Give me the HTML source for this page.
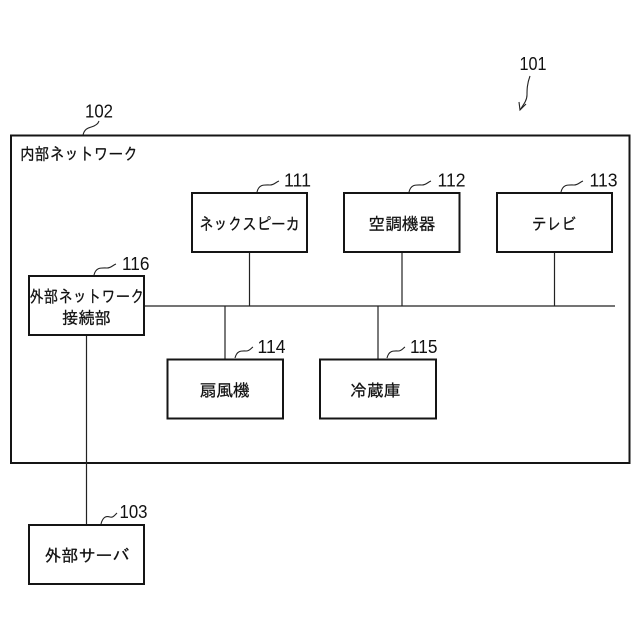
<!DOCTYPE html>
<html lang="ja"><head><meta charset="utf-8"><style>
html,body{margin:0;padding:0;background:#fff}
svg{display:block}
.j{font-family:"Liberation Sans","IPAGothic","Noto Sans CJK JP",sans-serif;font-size:17px;fill:#111;stroke:#111;stroke-width:.25}
.n{font-family:"Liberation Sans",sans-serif;font-size:18.5px;fill:#111}
.b{fill:none;stroke:#151515;stroke-width:2}
.l{fill:none;stroke:#222;stroke-width:1.2}
.c{fill:none;stroke:#222;stroke-width:1.1}
</style></head><body>
<svg width="640" height="640" viewBox="0 0 640 640" xmlns="http://www.w3.org/2000/svg">
<rect width="640" height="640" fill="#fff"/>
<rect class="b" x="11" y="135.5" width="618.5" height="327.5"/>
<path class="l" d="M144 306H615M249.5 252V306M402 252V306M554.5 252V306M225 306V359.5M378 306V359.5M86.5 335V525"/>
<rect class="b" x="192" y="193" width="115" height="59"/>
<rect class="b" x="344" y="193" width="115.5" height="59"/>
<rect class="b" x="497" y="193" width="115" height="59"/>
<rect class="b" x="29" y="276" width="115" height="59"/>
<rect class="b" x="167.5" y="359.5" width="115.5" height="59"/>
<rect class="b" x="320" y="359.5" width="116" height="59"/>
<rect class="b" x="29" y="525" width="115" height="59"/>
<path class="c" d="M83 135C85 127 90 128 94 126C98 124 98 123 99 121"/>
<path class="c" d="M257 192C259 184 264 185 270 185C274 185 276 182 279 181"/>
<path class="c" d="M409 192C411 184 416 185 422 185C426 185 428 182 431 181"/>
<path class="c" d="M561 192C563 184 568 185 574 185C578 185 580 182 583 181"/>
<path class="c" d="M94 275C96 267 101 268 107 268C111 268 113 265 116 264"/>
<path class="c" d="M235 358C237 350 242 351 246 351C250 351 251 348 253 347"/>
<path class="c" d="M387 358C389 350 394 351 398 351C402 351 403 348 405 347"/>
<path class="c" d="M101 524C103 516 107 516 110 517C113 518 115 515 117 513"/>
<path class="c" d="M530 76C527 84 527 90 527 95C527 100 524 104 520 110"/>
<path class="c" d="M519 102L520 110L526 104"/>
<text class="n" x="519.5" y="70" textLength="27" lengthAdjust="spacingAndGlyphs">101</text>
<text class="n" x="85" y="117.5" textLength="28" lengthAdjust="spacingAndGlyphs">102</text>
<text class="n" x="284" y="186.5" textLength="27" lengthAdjust="spacingAndGlyphs">111</text>
<text class="n" x="437.5" y="186.5" textLength="28" lengthAdjust="spacingAndGlyphs">112</text>
<text class="n" x="589.5" y="186.5" textLength="28" lengthAdjust="spacingAndGlyphs">113</text>
<text class="n" x="257.5" y="353" textLength="28" lengthAdjust="spacingAndGlyphs">114</text>
<text class="n" x="410" y="353" textLength="27.5" lengthAdjust="spacingAndGlyphs">115</text>
<text class="n" x="122" y="270" textLength="27.5" lengthAdjust="spacingAndGlyphs">116</text>
<text class="n" x="119.5" y="518" textLength="28" lengthAdjust="spacingAndGlyphs">103</text>
<text class="j" x="20" y="160" textLength="118" lengthAdjust="spacingAndGlyphs">内部ネットワーク</text>
<text class="j" x="199" y="230" textLength="101" lengthAdjust="spacingAndGlyphs">ネックスピーカ</text>
<text class="j" x="368.5" y="230" textLength="67" lengthAdjust="spacingAndGlyphs">空調機器</text>
<text class="j" x="532" y="230" textLength="44" lengthAdjust="spacingAndGlyphs">テレビ</text>
<text class="j" x="29.5" y="302.5" textLength="115" lengthAdjust="spacingAndGlyphs">外部ネットワーク</text>
<text class="j" x="62" y="324" textLength="49" lengthAdjust="spacingAndGlyphs">接続部</text>
<text class="j" x="199.5" y="396.5" textLength="50.5" lengthAdjust="spacingAndGlyphs">扇風機</text>
<text class="j" x="350" y="396.5" textLength="50.5" lengthAdjust="spacingAndGlyphs">冷蔵庫</text>
<text class="j" x="44.5" y="561.5" textLength="85" lengthAdjust="spacingAndGlyphs">外部サーバ</text>
</svg>
</body></html>
